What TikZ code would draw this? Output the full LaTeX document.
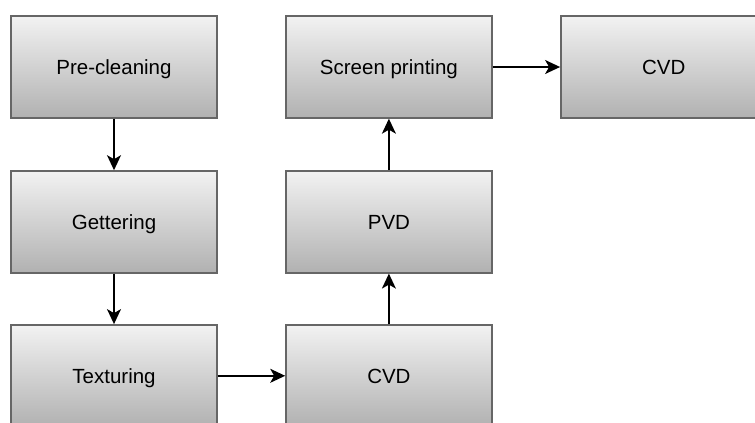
\documentclass[tikz,border=0pt]{standalone}
\usepackage{fontspec}
\setmainfont{Liberation Sans}
\usepackage{xcolor}
\usetikzlibrary{positioning,arrows.meta}
\definecolor{boxtop}{HTML}{F2F2F2}
\definecolor{boxbot}{HTML}{B1B1B1}
\definecolor{boxline}{HTML}{666666}
\tikzset{
  stage/.style={draw=boxline, line width=1.4pt, top color=boxtop, bottom color=boxbot,
    minimum width=206pt, minimum height=102pt, inner sep=0pt, text height=14.5pt, text depth=0pt,
    font=\fontsize{20.5}{24}\selectfont},
  flow/.style={line width=1.6pt, -{Stealth[length=15pt,width=14pt,inset=4pt]}}
}

\begin{document}
\begin{tikzpicture}[x=1pt,y=1pt]
\useasboundingbox (0,0) rectangle (755,-423);
\clip (0,0) rectangle (755,-423);

\node[stage] (pre) at (114,-67) {Pre-cleaning};
\node[stage, below=51.5pt of pre] (get) {Gettering};
\node[stage, below=50.5pt of get] (tex) {Texturing};
\node[stage, right=67.5pt of tex] (cvdA) {CVD};
\node[stage, above=50.5pt of cvdA] (pvd) {PVD};
\node[stage, above=51.5pt of pvd] (scr) {Screen printing};
\node[stage, right=67.5pt of scr] (cvdB) {CVD};

\draw[flow] (pre) -- (get);
\draw[flow] (get) -- (tex);
\draw[flow] (tex) -- (cvdA);
\draw[flow] (cvdA) -- (pvd);
\draw[flow] (pvd) -- (scr);
\draw[flow] (scr) -- (cvdB);
\end{tikzpicture}
\end{document}
